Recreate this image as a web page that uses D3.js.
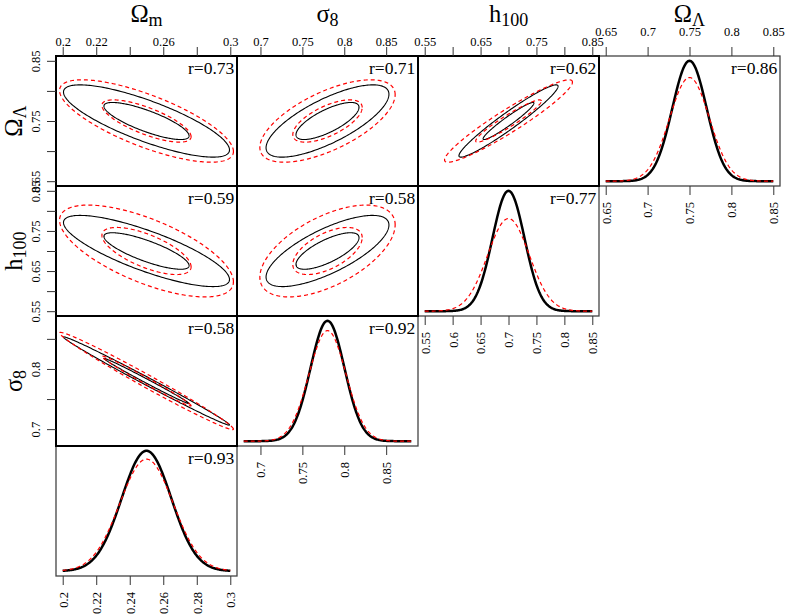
<!DOCTYPE html>
<html>
<head>
<meta charset="utf-8">
<script src="https://cdn.jsdelivr.net/npm/d3@7"></script>
<style>
  body { margin: 0; background: #fff; }
  text { font-family: "Liberation Serif", "Times New Roman", serif; }
</style>
</head>
<body>
<svg id="canvas"></svg>
<script>
"use strict";

// Parameters: Omega_m, sigma_8, h_100, Omega_Lambda
const symbols = ["Ω", "σ", "h", "Ω"];
const subscripts = ["m", "8", "100", "Λ"];
const rangeLo = [0.2, 0.68, 0.55, 0.65];
const rangeHi = [0.3, 0.88, 0.85, 0.85];
const means = [0.25, 0.78, 0.70, 0.75];

// 1D marginals (black solid / red dashed) and their r labels
const sigma1dBlack = [0.0148, 0.0203, 0.0287, 0.0205];
const sigma1dRed = [0.0159, 0.0221, 0.0373, 0.0238];
const r1d = ["0.93", "0.92", "0.77", "0.86"];

// 2D contours: widths per parameter, two contour levels
const sigma2dBlack = [0.0254, 0.0376, 0.0455, 0.0308];
const sigma2dRed = [0.0266, 0.0414, 0.0587, 0.0351];
const levels = [1, 1.95];

// pairs (x parameter, y parameter)
const pairX = [0, 1, 2, 0, 1, 0];
const pairY = [3, 3, 3, 2, 2, 1];
const rhoBlack = [-0.80, 0.74, 0.96, -0.80, 0.73, -0.995];
const rhoRed = [-0.74, 0.64, 0.945, -0.67, 0.57, -0.989];
const r2d = ["0.73", "0.71", "0.62", "0.59", "0.58", "0.58"];

// ticks and the labels that are printed
const ticks = [
    [0.2, 0.22, 0.24, 0.26, 0.28, 0.3],
    [0.7, 0.75, 0.8, 0.85],
    [0.55, 0.6, 0.65, 0.7, 0.75, 0.8, 0.85],
    [0.65, 0.7, 0.75, 0.8, 0.85]
];
const topLabels = [
    ["0.2", "0.22", "", "0.26", "", "0.3"],
    ["0.7", "0.75", "0.8", "0.85"],
    ["0.55", "", "0.65", "", "0.75", "", "0.85"],
    ["0.65", "0.7", "0.75", "0.8", "0.85"]
];
const leftLabels = [
    null,
    ["0.7", "", "0.8", ""],
    ["0.55", "", "0.65", "", "0.75", "", "0.85"],
    ["0.65", "", "0.75", "", "0.85"]
];
const bottomLabels = [
    ["0.2", "0.22", "0.24", "0.26", "0.28", "0.3"],
    ["0.7", "0.75", "0.8", "0.85"],
    ["0.55", "0.6", "0.65", "0.7", "0.75", "0.8", "0.85"],
    ["0.65", "0.7", "0.75", "0.8", "0.85"]
];

const width = 786, height = 616;
const marginLeft = 56, marginTop = 56, panelW = 181, panelH = 130;
const fontFamily = '"Liberation Serif", "Times New Roman", serif';
const tickFont = 12.5;

const svg = d3.select("#canvas")
    .attr("width", width)
    .attr("height", height);

const pad = (lo, hi) => {
    const d = (hi - lo) * 0.04;
    return [lo - d, hi + d];
};

const xScales = means.map((m, p) => d3.scaleLinear()
    .domain(pad(rangeLo[p], rangeHi[p]))
    .range([marginLeft + p * panelW, marginLeft + (p + 1) * panelW]));

const yScales = means.map((m, p) => {
    const row = 3 - p;
    return d3.scaleLinear()
        .domain(pad(rangeLo[p], rangeHi[p]))
        .range([marginTop + (row + 1) * panelH, marginTop + row * panelH]);
});

const gauss = (x, mu, s) => Math.exp(-0.5 * ((x - mu) / s) ** 2) / (s * Math.sqrt(2 * Math.PI));

const addRLabel = (col, row, label) => {
    svg.append("text")
        .attr("x", marginLeft + (col + 1) * panelW - 2.7)
        .attr("y", marginTop + row * panelH + 17.5)
        .attr("text-anchor", "end")
        .attr("font-size", 17.5)
        .text("r=" + label);
};

// 1D panels on the diagonal
means.forEach((mu, p) => {
    const row = 3 - p;
    const x = xScales[p];
    const peak = gauss(mu, mu, sigma1dBlack[p]);
    const y = d3.scaleLinear()
        .domain(pad(0, peak))
        .range([marginTop + (row + 1) * panelH, marginTop + row * panelH]);

    svg.append("rect")
        .attr("x", marginLeft + p * panelW)
        .attr("y", marginTop + row * panelH)
        .attr("width", panelW)
        .attr("height", panelH)
        .attr("fill", "none")
        .attr("stroke", "#444")
        .attr("stroke-width", 1.3);

    const xs = d3.range(241).map(i => rangeLo[p] + (rangeHi[p] - rangeLo[p]) * i / 240);

    svg.append("path")
        .attr("d", d3.line().x(v => x(v)).y(v => y(gauss(v, mu, sigma1dBlack[p])))(xs))
        .attr("fill", "none")
        .attr("stroke", "black")
        .attr("stroke-width", 2.5);

    svg.append("path")
        .attr("d", d3.line().x(v => x(v)).y(v => y(gauss(v, mu, sigma1dRed[p])))(xs))
        .attr("fill", "none")
        .attr("stroke", "red")
        .attr("stroke-width", 1.2)
        .attr("stroke-dasharray", "4,3");

    addRLabel(p, row, r1d[p]);

    // rotated bottom axis
    const g = svg.append("g")
        .attr("transform", `translate(0,${marginTop + (row + 1) * panelH})`)
        .call(d3.axisBottom(x)
            .tickValues(ticks[p])
            .tickFormat((d, i) => bottomLabels[p][i])
            .tickSize(9)
            .tickSizeOuter(0));
    g.select(".domain").remove();
    g.attr("font-family", fontFamily).attr("font-size", tickFont);
    g.selectAll(".tick line").attr("stroke", "#333");
    g.selectAll(".tick text")
        .attr("fill", "#000")
        .attr("y", null)
        .attr("dy", "0.35em")
        .attr("text-anchor", "end")
        .attr("transform", "translate(0,16) rotate(-90)");
});

// 2D panels with contour ellipses
const ellipse = (xi, yi, sx, sy, rho, k) => {
    const pts = d3.range(241).map(i => {
        const t = 2 * Math.PI * i / 240;
        return [
            means[xi] + k * sx * Math.cos(t),
            means[yi] + k * sy * (rho * Math.cos(t) + Math.sqrt(1 - rho * rho) * Math.sin(t))
        ];
    });
    return d3.line()
        .x(d => xScales[xi](d[0]))
        .y(d => yScales[yi](d[1]))
        .curve(d3.curveLinearClosed)(pts);
};

pairX.forEach((xi, n) => {
    const yi = pairY[n];
    levels.forEach(k => {
        svg.append("path")
            .attr("d", ellipse(xi, yi, sigma2dBlack[xi], sigma2dBlack[yi], rhoBlack[n], k))
            .attr("fill", "none")
            .attr("stroke", "black")
            .attr("stroke-width", 1.1);
    });
    levels.forEach(k => {
        svg.append("path")
            .attr("d", ellipse(xi, yi, sigma2dRed[xi], sigma2dRed[yi], rhoRed[n], k))
            .attr("fill", "none")
            .attr("stroke", "red")
            .attr("stroke-width", 1.2)
            .attr("stroke-dasharray", "4,3");
    });
    addRLabel(xi, 3 - yi, r2d[n]);
});

pairX.forEach((xi, n) => {
    svg.append("rect")
        .attr("x", marginLeft + xi * panelW)
        .attr("y", marginTop + (3 - pairY[n]) * panelH)
        .attr("width", panelW)
        .attr("height", panelH)
        .attr("fill", "none")
        .attr("stroke", "black")
        .attr("stroke-width", 2);
});

// top axes
means.forEach((m, p) => {
    const g = svg.append("g")
        .attr("transform", `translate(0,${marginTop})`)
        .call(d3.axisTop(xScales[p])
            .tickValues(ticks[p])
            .tickFormat((d, i) => topLabels[p][i])
            .tickSize(9)
            .tickPadding(p === 3 ? 11.5 : 1.5)
            .tickSizeOuter(0));
    g.select(".domain").remove();
    g.attr("font-family", fontFamily).attr("font-size", tickFont);
    g.selectAll(".tick line").attr("stroke", "#333");
    g.selectAll(".tick text").attr("fill", "#000");
});

// left axes
[3, 2, 1].forEach(p => {
    const g = svg.append("g")
        .attr("transform", `translate(${marginLeft},0)`)
        .call(d3.axisLeft(yScales[p])
            .tickValues(ticks[p])
            .tickFormat((d, i) => leftLabels[p][i])
            .tickSize(9)
            .tickSizeOuter(0));
    g.select(".domain").remove();
    g.attr("font-family", fontFamily).attr("font-size", tickFont);
    g.selectAll(".tick line").attr("stroke", "#333");
    g.selectAll(".tick text")
        .attr("fill", "#000")
        .attr("x", null)
        .attr("dy", null)
        .attr("text-anchor", "middle")
        .attr("transform", "translate(-16,0) rotate(-90)");
});

// parameter titles
const writeTitle = (sel, p) => {
    sel.append("tspan").text(symbols[p]);
    sel.append("tspan").attr("font-size", 18).attr("dy", 4).text(subscripts[p]);
};

means.forEach((m, p) => {
    svg.append("text")
        .attr("x", marginLeft + (p + 0.5) * panelW)
        .attr("y", 22)
        .attr("text-anchor", "middle")
        .attr("font-size", 24.5)
        .call(writeTitle, p);
});

[3, 2, 1].forEach(p => {
    const row = 3 - p;
    svg.append("text")
        .attr("transform", `translate(22,${marginTop + (row + 0.5) * panelH}) rotate(-90)`)
        .attr("text-anchor", "middle")
        .attr("font-size", 24.5)
        .call(writeTitle, p);
});
</script>
</body>
</html>
